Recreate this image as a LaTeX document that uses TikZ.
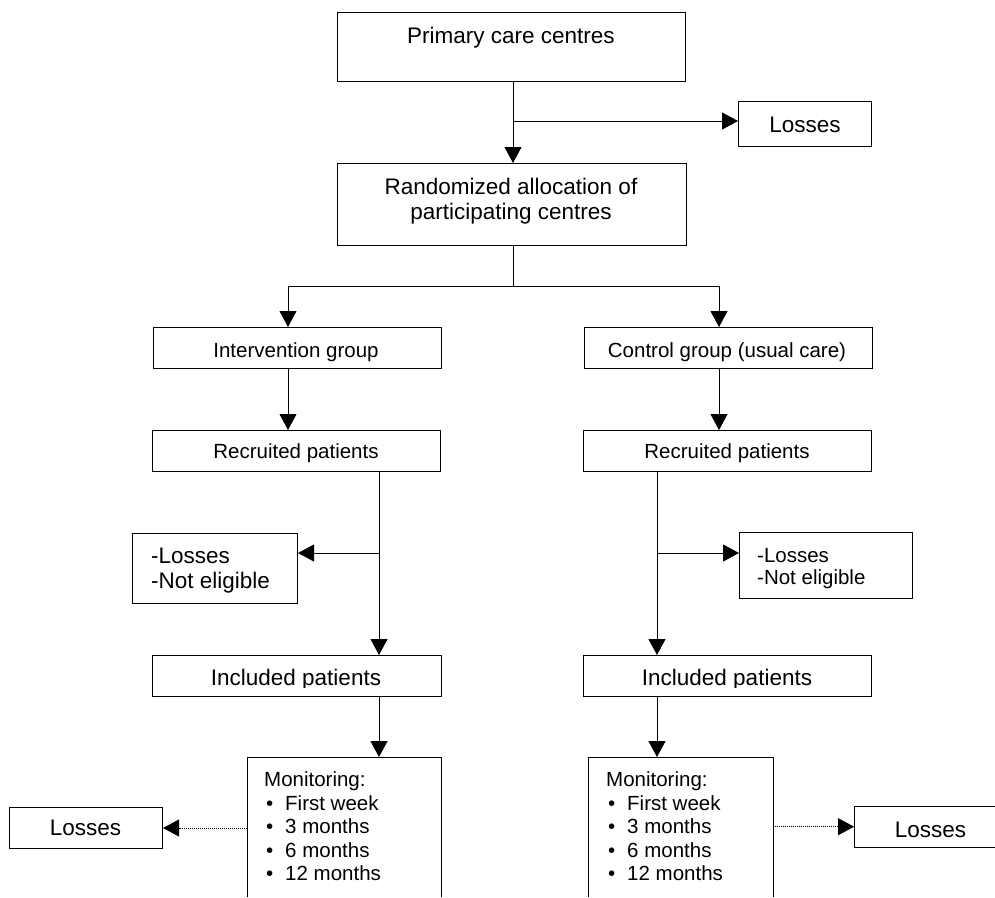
\documentclass[tikz,border=0pt]{standalone}
\usepackage{fontspec}
\setmainfont{Liberation Sans}
\usetikzlibrary{arrows.meta}
\tikzset{
  box/.style={draw, line width=1pt, rectangle, inner sep=0pt, anchor=north west},
  openbox/.style={rectangle, inner sep=0pt, anchor=north west},
  edge/.style={line width=1pt},
  arr/.style={line width=1pt, -{Triangle[length=16pt,width=17pt]}},
  dotarr/.style={line width=0.9pt, dash pattern=on 1pt off 1pt, -{Triangle[length=16pt,width=17pt]}},
  big/.style={inner sep=0pt, font=\fontsize{22.5}{26}\selectfont},
  small/.style={inner sep=0pt, font=\fontsize{20.5}{23.5}\selectfont},
}
\begin{document}
\begin{tikzpicture}[x=1pt,y=-1pt]
\fill[white] (0,0) rectangle (995,897);
\useasboundingbox (0,0) rectangle (995,897);

% boxes
\node[box, minimum width=348pt, minimum height=69pt] (pcc) at (337,12) {};
\node[box, minimum width=133pt, minimum height=45pt] (loss0) at (738,101) {};
\node[box, minimum width=349pt, minimum height=82pt] (rand) at (337,163) {};
\node[box, minimum width=288pt, minimum height=41pt] (ig) at (153,327) {};
\node[box, minimum width=288pt, minimum height=41pt] (cg) at (584,327) {};
\node[box, minimum width=288pt, minimum height=41pt] (rp1) at (152,430) {};
\node[box, minimum width=288pt, minimum height=41pt] (rp2) at (583,430) {};
\node[box, minimum width=165pt, minimum height=70pt] (ne1) at (132,533) {};
\node[box, minimum width=173pt, minimum height=66pt] (ne2) at (739,532) {};
\node[box, minimum width=289pt, minimum height=41pt] (inc1) at (152,655) {};
\node[box, minimum width=288pt, minimum height=41pt] (inc2) at (583,655) {};
\node[openbox, minimum width=194pt, minimum height=140pt] (mon1) at (247,757) {};
\node[openbox, minimum width=185pt, minimum height=140pt] (mon2) at (588,757) {};
\node[box, minimum width=153pt, minimum height=41pt] (l1) at (9,807) {};
\node[openbox, minimum width=141pt, minimum height=41pt] (l2) at (854,806) {};

% open-sided boxes
\draw[edge] (mon1.south west) -- (mon1.north west) -- (mon1.north east) -- (mon1.south east);
\draw[edge] (mon2.south west) -- (mon2.north west) -- (mon2.north east) -- (mon2.south east);
\draw[edge] (l2.north east) -- (l2.north west) -- (l2.south west) -- (l2.south east);

% helper coordinates
\coordinate (xs) at (513,0);
\coordinate (xL) at (288,0);
\coordinate (xR) at (719,0);
\coordinate (xL2) at (379,0);
\coordinate (xR2) at (657,0);
\coordinate (yb) at (0,553);
\coordinate (yt) at (0,121);
\coordinate (yg) at (0,286);
\coordinate (j1) at (xs |- yg);

% connectors
\draw[arr] (pcc.south -| xs) -- (rand.north -| xs);
\draw[arr] (xs |- yt) -- (loss0.west |- yt);
\draw[edge] (rand.south -| xs) -- (j1);
\draw[arr] (j1) -| (ig.north -| xL);
\draw[arr] (j1) -| (cg.north -| xR);
\draw[arr] (ig.south -| xL) -- (rp1.north -| xL);
\draw[arr] (cg.south -| xR) -- (rp2.north -| xR);
\draw[arr] (rp1.south -| xL2) -- (inc1.north -| xL2);
\draw[arr] (xL2 |- yb) -- (ne1.east |- yb);
\draw[arr] (rp2.south -| xR2) -- (inc2.north -| xR2);
\draw[arr] (xR2 |- yb) -- (ne2.west |- yb);
\draw[arr] (inc1.south -| xL2) -- (mon1.north -| xL2);
\draw[arr] (inc2.south -| xR2) -- (mon2.north -| xR2);
\draw[dotarr] (mon1.west |- l1.east) -- (l1.east);
\draw[dotarr] (mon2.east |- l2.west) -- (l2.west);

% texts
\node[big, anchor=base] (t1) at (511,43) {Primary care centres};
\node[big, anchor=base] (t2) at (805,132) {Losses};
\node[big, anchor=base] (t3) at (511,194) {Randomized allocation of};
\node[big, anchor=base] (t4) at (511,219) {participating centres};
\node[small, anchor=base] (t5) at (296,357) {Intervention group};
\node[small, anchor=base] (t6) at (727,357) {Control group (usual care)};
\node[small, anchor=base] (t7) at (296,458) {Recruited patients};
\node[small, anchor=base] (t8) at (727,458) {Recruited patients};
\node[big, anchor=base west] (t9) at (151,563) {-Losses};
\node[big, anchor=base west] (t10) at (151,588) {-Not eligible};
\node[small, anchor=base west] (t11) at (757,562) {-Losses};
\node[small, anchor=base west] (t12) at (757,584) {-Not eligible};
\begin{scope}
\clip (0,640) rectangle (995,687);
\node[big, anchor=base] (t13) at (296,685) {Included patients};
\node[big, anchor=base] (t14) at (727,685) {Included patients};
\end{scope}
% monitoring left
\node[small, anchor=base west] (m0) at (264,786) {Monitoring:};
\foreach \y/\t [count=\i] in {810/First week, 833/3 months, 857/6 months, 880/12 months}{
  \node[small, anchor=base west] (mb\i) at (266,\y) {•};
  \node[small, anchor=base west] (mt\i) at (285,\y) {\t};
}
% monitoring right
\node[small, anchor=base west] (n0) at (606,786) {Monitoring:};
\foreach \y/\t [count=\i] in {810/First week, 833/3 months, 857/6 months, 880/12 months}{
  \node[small, anchor=base west] (nb\i) at (608,\y) {•};
  \node[small, anchor=base west] (nt\i) at (627,\y) {\t};
}
\node[big, anchor=base] (t15) at (85.5,835) {Losses};
\node[big, anchor=base] (t16) at (930.5,837) {Losses};
\end{tikzpicture}
\end{document}
